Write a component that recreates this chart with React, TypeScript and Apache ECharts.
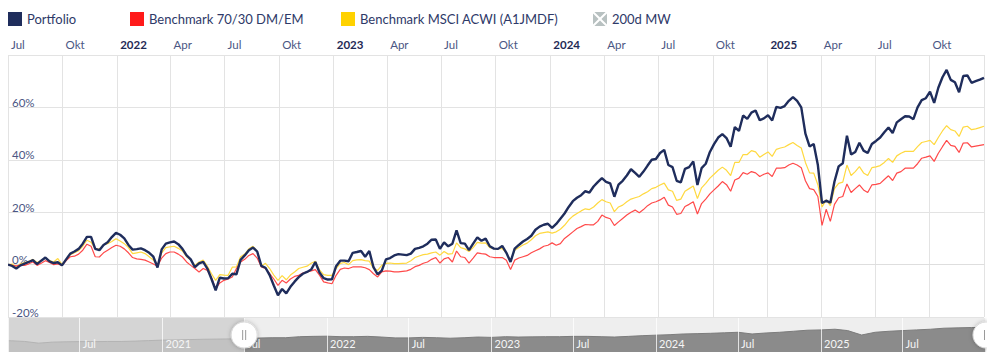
import React, { useEffect, useRef } from 'react';
import * as echarts from 'echarts';

// ---- data ----
const WEEK_START = '2021-07-01'; // weekly observations, one per week from this date
const MAIN_MIN = '2021-07-01';
const MAIN_MAX = '2026-01-01';
const NAV_MIN = '2020-01-24';
const NAV_MAX = '2026-01-02';
const SEL_START = '2021-07-01';

const MONTH_NAMES = ['Jan', 'Feb', 'Mär', 'Apr', 'Mai', 'Jun', 'Jul', 'Aug', 'Sep', 'Okt', 'Nov', 'Dez'];
const SERIES_NAMES = ['Portfolio', 'Benchmark 70/30 DM/EM', 'Benchmark MSCI ACWI (A1JMDF)', '200d MW'];

const PORTFOLIO = [
  0, -0.5, -1.5, -0.3, 0.4, 1.0, 1.7, 0.2, 1.5, 2.7,
  1.2, 0.6, 0.9, -0.3, 2.0, 4.2, 5.0, 6.0, 8.0, 10.6,
  10.6, 6.0, 5.5, 7.5, 8.5, 10.5, 12.1, 11.4, 10.0, 7.5,
  5.7, 5.9, 6.2, 5.5, 4.5, 3.0, -1.1, 5.8, 8.0, 8.5,
  8.8, 7.8, 6.0, 3.5, 2.0, -1.0, 0.5, 1.0, -1.5, -5.5,
  -9.8, -5.0, -5.3, -5.2, -3.5, -3.7, 1.8, 3.5, 5.5, 6.5,
  5.0, -0.5, -1.2, -4.0, -8.0, -11.7, -9.3, -11.0, -8.5, -6.5,
  -4.8, -3.5, -2.8, -1.9, 1.0, -3.0, -5.2, -5.7, -5.6, -0.6,
  1.5, 1.5, 1.3, 4.5, 4.8, 5.2, 3.0, 5.2, -1.0, -3.7,
  -2.3, 2.0, 2.5, 3.5, 4.0, 3.8, 3.6, 4.2, 6.0, 6.4,
  7.0, 8.0, 9.5, 9.6, 6.0, 8.5, 7.0, 8.0, 13.1, 8.2,
  8.0, 5.5, 8.0, 10.4, 9.1, 9.9, 7.0, 6.1, 6.0, 7.1,
  4.5, 1.0, 6.1, 7.5, 8.8, 9.8, 11.0, 13.3, 14.5, 15.2,
  15.6, 14.0, 15.5, 17.5, 19.5, 22.0, 24.2, 25.5, 26.5, 28.0,
  27.5, 29.8, 31.5, 33.0, 31.6, 31.0, 25.9, 30.5, 32.0, 34.0,
  36.4, 35.0, 33.5, 35.5, 37.8, 40.0, 40.3, 42.6, 43.8, 38.0,
  37.2, 32.0, 31.4, 36.5, 37.2, 39.4, 30.4, 36.8, 38.5, 43.0,
  46.0, 48.5, 49.8, 48.3, 45.0, 52.5, 51.0, 56.9, 55.6, 58.0,
  58.8, 55.1, 55.8, 57.0, 55.0, 60.2, 59.8, 60.5, 62.5, 63.9,
  62.5, 60.0, 50.0, 45.1, 46.0, 38.0, 23.5, 24.4, 23.6, 31.7,
  37.5, 38.7, 49.2, 42.0, 43.0, 46.5, 43.5, 42.6, 46.0, 47.2,
  48.5, 50.5, 52.3, 50.2, 54.3, 55.5, 56.6, 56.5, 55.5, 60.0,
  62.8, 63.5, 66.0, 61.7, 67.5, 71.5, 74.3, 70.5, 69.6, 65.8,
  72.0, 72.2, 69.4, 70.0, 70.6, 71.3,
];

const MSCI_ACWI = [
  0, 0.2, -0.8, 0.3, 0.8, 1.2, 2.0, 0.8, 1.5, 2.5,
  1.5, 1.0, 2.3, 0.1, 1.8, 3.8, 4.5, 5.3, 7.0, 9.3,
  8.5, 6.1, 6.0, 7.5, 8.0, 8.8, 9.9, 9.0, 8.0, 6.5,
  4.2, 4.5, 4.8, 4.2, 3.0, 1.7, -0.3, 4.5, 6.5, 6.8,
  7.0, 6.2, 5.2, 3.0, 1.7, -0.3, 1.0, 1.7, -0.6, -3.5,
  -6.0, -3.8, -4.0, -4.1, -1.0, -0.9, 3.0, 4.0, 6.0, 7.0,
  5.0, -0.5, 0.5, -1.5, -4.0, -6.0, -4.2, -5.8, -4.0, -2.8,
  -1.5, -1.0, -0.6, 0.5, 1.3, -2.0, -3.8, -4.1, -4.1, -1.5,
  0.5, 0.8, 0.0, 1.5, 1.8, 1.9, 1.5, 1.3, -1.5, -2.2,
  -0.3, 0.5, 0.6, 0.4, 0.4, 0.5, 0.6, 1.5, 2.7, 3.3,
  3.8, 4.0, 4.5, 4.8, 3.6, 5.0, 4.0, 4.2, 8.3, 6.5,
  6.0, 5.0, 6.5, 8.5, 8.2, 8.3, 6.5, 6.1, 6.1, 6.1,
  4.5, 1.4, 5.5, 6.5, 7.5, 8.2, 9.5, 11.0, 11.9, 12.2,
  12.5, 12.0, 12.5, 13.5, 15.0, 17.0, 18.5, 19.5, 20.5, 21.3,
  21.0, 22.0, 23.5, 24.8, 24.0, 23.5, 20.2, 22.0, 22.7, 24.0,
  25.0, 25.5, 26.0, 27.0, 27.8, 29.0, 29.5, 30.4, 31.1, 28.5,
  28.0, 24.5, 25.0, 28.0, 29.0, 30.0, 25.2, 29.3, 31.0, 33.0,
  34.5, 36.0, 37.2, 36.0, 34.0, 39.0, 39.0, 42.0, 42.0, 43.5,
  43.0, 41.0, 42.0, 43.0, 41.3, 44.0, 44.5, 44.9, 45.8, 46.6,
  45.5, 44.5, 39.0, 35.0, 34.9, 30.5, 22.0, 24.7, 22.5, 29.0,
  31.0, 31.5, 38.0, 34.0, 35.5, 37.4, 35.0, 34.0, 37.0, 37.3,
  37.8, 39.0, 40.5, 39.0, 41.5, 42.5, 43.2, 43.2, 43.2, 45.0,
  46.6, 47.0, 47.4, 45.8, 48.5, 51.0, 53.0, 51.5, 51.0, 48.9,
  52.5, 52.8, 51.5, 51.8, 52.3, 52.8,
];

const BENCH_7030 = [
  0, -0.3, -0.5, -0.2, -0.3, 0.3, 1.0, -0.3, 0.5, 1.5,
  0.8, 0.0, 0.3, -0.3, 1.5, 3.0, 3.2, 4.0, 5.5, 7.8,
  7.0, 3.0, 2.9, 4.5, 5.5, 6.5, 7.4, 7.0, 6.0, 4.5,
  2.7, 2.2, 2.0, 1.7, 1.0, 0.2, -0.6, 2.5, 4.2, 4.8,
  4.8, 4.0, 2.9, 1.0, -0.3, -1.5, -2.8, -1.5, -2.2, -5.0,
  -9.2, -7.0, -6.0, -5.5, -4.7, -1.5, 1.0, 2.0, 3.5, 4.2,
  2.5, -0.9, -1.5, -3.4, -5.5, -7.9, -6.0, -7.0, -5.5, -4.5,
  -4.1, -3.2, -2.8, -2.4, -1.9, -4.0, -6.6, -7.0, -7.3, -4.1,
  -1.8, -1.3, -1.5, -0.9, -0.9, -0.9, -1.2, -1.9, -3.5, -4.7,
  -2.8, -2.4, -2.5, -2.8, -2.8, -2.6, -2.4, -1.8, -0.8, -0.3,
  0.5, 1.0, 2.0, 2.7, 0.6, 2.2, 2.7, 1.0, 5.2, 3.0,
  2.7, 0.6, 2.5, 4.5, 4.2, 4.0, 3.0, 2.7, 2.7, 2.7,
  1.7, -1.9, 1.7, 2.5, 3.0, 3.5, 4.5, 5.3, 6.0, 7.0,
  7.4, 8.3, 7.4, 8.0, 10.0, 11.2, 12.5, 13.8, 14.5, 15.3,
  15.2, 15.2, 16.5, 18.9, 18.0, 17.5, 14.9, 16.3, 17.6, 18.9,
  20.0, 20.8, 19.8, 21.0, 22.5, 23.5, 24.0, 24.7, 25.7, 22.7,
  22.0, 19.2, 19.5, 22.2, 23.0, 24.0, 19.3, 23.3, 25.0, 27.0,
  28.5, 30.0, 31.7, 30.5, 28.0, 32.3, 33.0, 35.1, 34.5, 35.5,
  35.0, 33.6, 34.5, 35.0, 33.6, 36.8, 36.8, 37.0, 38.0, 38.7,
  38.0, 37.0, 32.0, 29.0, 28.6, 26.0, 15.0, 21.1, 16.5, 23.0,
  25.5, 26.0, 30.8, 27.5, 29.0, 30.4, 28.5, 27.5, 30.4, 30.6,
  31.0, 32.5, 33.9, 32.1, 34.9, 35.5, 36.8, 36.8, 36.8, 38.5,
  40.6, 41.0, 41.5, 39.4, 42.5, 45.0, 47.4, 45.5, 45.1, 42.8,
  46.4, 46.5, 44.9, 45.2, 45.5, 45.8,
];

// navigator (overview) series, in the navigator's own relative scale 0..100
const NAV_DATES = [
  '2020-01-24', '2020-02-01', '2020-03-01', '2020-04-01', '2020-05-01', '2020-06-01',
  '2020-07-01', '2020-08-01', '2020-09-01', '2020-10-01', '2020-11-01', '2020-12-01',
  '2021-01-01', '2021-02-01', '2021-03-01', '2021-04-01', '2021-05-01', '2021-06-01',
  '2021-07-01', '2021-08-01', '2021-09-01', '2021-10-01', '2021-11-01', '2021-12-01',
  '2022-01-01', '2022-02-01', '2022-03-01', '2022-04-01', '2022-05-01', '2022-06-01',
  '2022-07-01', '2022-08-01', '2022-09-01', '2022-10-01', '2022-11-01', '2022-12-01',
  '2023-01-01', '2023-02-01', '2023-03-01', '2023-04-01', '2023-05-01', '2023-06-01',
  '2023-07-01', '2023-08-01', '2023-09-01', '2023-10-01', '2023-11-01', '2023-12-01',
  '2024-01-01', '2024-02-01', '2024-03-01', '2024-04-01', '2024-05-01', '2024-06-01',
  '2024-07-01', '2024-08-01', '2024-09-01', '2024-10-01', '2024-11-01', '2024-12-01',
  '2025-01-01', '2025-02-01', '2025-03-01', '2025-04-01', '2025-05-01', '2025-06-01',
  '2025-07-01', '2025-08-01', '2025-09-01', '2025-10-01', '2025-11-01', '2025-12-01',
  '2026-01-02',
];
const NAV_VALUES = [
  33, 33, 31, 26, 29, 30,
  30.5, 30.5, 31, 31, 32, 33.5,
  35, 35.5, 36.5, 37.5, 38, 38.5,
  40, 41, 42, 42, 45, 46,
  46.5, 45, 45, 46, 44, 41.5,
  41.5, 43, 42, 40.5, 42, 44,
  43, 45, 44, 44.5, 45, 45,
  46, 46, 45, 44, 46, 48,
  49.5, 51, 53, 54, 55, 56.5,
  58, 53, 56, 58, 61, 64,
  65, 67, 63, 50, 58, 61,
  63, 65, 67, 70, 71, 72,
  72.5,
];

const DAY = 86400000;

function ts(s: string): number {
  const [y, m, d] = s.split('-').map(Number);
  return new Date(y, m - 1, d).getTime();
}
function weekly(i: number): number {
  const [y, m, d] = WEEK_START.split('-').map(Number);
  return new Date(y, m - 1, d + 7 * i).getTime();
}

const FONT = 'Lato';
const LABEL_COLOR = '#4a5683';
const YEAR_COLOR = '#1f2a55';
const LEGEND_LEFTS = [0, 122, 333, 585];
const X_ICON = 'path://M10,0L90,0L50,40Z M100,10L100,90L60,50Z M90,100L10,100L50,60Z M0,90L0,10L40,50Z';

function mainLabel(val: number): string {
  const d = new Date(val);
  if (d.getDate() !== 1 || d.getFullYear() >= 2026) return '';
  const m = d.getMonth();
  if (m % 3 !== 0) return '';
  return m === 0 ? `{y|${d.getFullYear()}}` : `{m|${MONTH_NAMES[m]}}`;
}
function navLabel(val: number): string {
  const d = new Date(val);
  if (d.getDate() !== 1 || d.getFullYear() >= 2026) return '';
  const m = d.getMonth();
  if (m === 0) return String(d.getFullYear());
  if (m === 6) return MONTH_NAMES[6];
  return '';
}

function handle(cx: number, cy: number) {
  return {
    type: 'group',
    x: cx,
    y: cy,
    z: 20,
    children: [
      {
        type: 'circle',
        z: 20,
        shape: { cx: 0, cy: 0, r: 13 },
        style: { fill: '#ffffff', stroke: '#dcdcdc', lineWidth: 1, shadowBlur: 4, shadowColor: 'rgba(0,0,0,0.25)' },
      },
      { type: 'line', z: 21, shape: { x1: -1.5, y1: -5, x2: -1.5, y2: 5 }, style: { stroke: '#9a9a9a', lineWidth: 1 } },
      { type: 'line', z: 21, shape: { x1: 1.5, y1: -5, x2: 1.5, y2: 5 }, style: { stroke: '#9a9a9a', lineWidth: 1 } },
    ],
  };
}

function legendFor(i: number) {
  const item: any = { name: SERIES_NAMES[i] };
  if (i === 3) {
    item.icon = X_ICON;
    item.itemStyle = { color: '#b8c1c1' };
  }
  return {
    left: LEGEND_LEFTS[i],
    top: 4,
    padding: 0,
    itemWidth: 14,
    itemHeight: 14,
    icon: 'rect',
    selectedMode: false,
    itemStyle: { borderWidth: 0 },
    textStyle: { fontFamily: FONT, fontSize: 13, color: '#2e3968' },
    data: [item],
  };
}

export default function App() {
  const ref = useRef<HTMLDivElement>(null);
  useEffect(() => {
    if (!ref.current) return;
    const chart = echarts.init(ref.current, null, { renderer: 'svg' });
    const sel = ts(SEL_START);
    const navAll = NAV_DATES.map((d, i) => [ts(d), NAV_VALUES[i]]);
    const navLeft = navAll.filter((p) => p[0] <= sel);
    const navRight = navAll.filter((p) => p[0] >= sel);

    const option: any = {
      animation: false,
      textStyle: { fontFamily: FONT },
      legend: [legendFor(0), legendFor(1), legendFor(2), legendFor(3)],
      grid: [
        { left: 0, right: 3, top: 47, height: 262, outerBoundsMode: 'none', containLabel: false },
        {
          left: 0, right: 1, top: 310, height: 34, outerBoundsMode: 'none', containLabel: false,
          show: true, backgroundColor: '#eeeeee', borderWidth: 0,
        },
      ],
      xAxis: [
        {
          type: 'time',
          gridIndex: 0,
          position: 'top',
          min: ts(MAIN_MIN),
          max: ts(MAIN_MAX),
          splitNumber: 18,
          minInterval: 91 * DAY,
          maxInterval: 91 * DAY,
          axisLine: { show: true, lineStyle: { color: '#dedede', width: 1 } },
          axisTick: { show: false },
          splitLine: { show: true, lineStyle: { color: '#e3e3e3', width: 1 } },
          axisLabel: {
            formatter: mainLabel,
            margin: 5,
            align: 'left',
            padding: [0, 0, 0, 3],
            fontSize: 11.5,
            rich: {
              y: { fontFamily: FONT, fontSize: 11.5, fontWeight: 'bold', color: YEAR_COLOR },
              m: { fontFamily: FONT, fontSize: 11.5, color: LABEL_COLOR },
            },
          },
        },
        {
          type: 'time',
          gridIndex: 1,
          position: 'bottom',
          min: ts(NAV_MIN),
          max: ts(NAV_MAX),
          splitNumber: 12,
          minInterval: 182 * DAY,
          maxInterval: 182 * DAY,
          z: 5,
          axisLine: { show: false },
          axisTick: { show: false },
          splitLine: { show: true, lineStyle: { color: 'rgba(255,255,255,0.75)', width: 1 } },
          axisLabel: {
            inside: true,
            formatter: navLabel,
            color: '#f6f6f6',
            fontSize: 11,
            fontFamily: FONT,
            margin: 3,
            align: 'left',
            padding: [0, 0, 0, 3],
          },
        },
      ],
      yAxis: [
        {
          type: 'value',
          gridIndex: 0,
          min: -20,
          max: 80,
          interval: 20,
          axisLine: { show: false },
          axisTick: { show: false },
          splitLine: {
            show: true,
            lineStyle: { color: ['#e3e3e3', '#9c9c9c', '#e3e3e3', '#e3e3e3', '#e3e3e3', '#e3e3e3'], width: 1 },
          },
          axisLabel: {
            inside: true,
            margin: 4,
            verticalAlign: 'bottom',
            lineHeight: 10,
            fontSize: 11.5,
            fontFamily: FONT,
            color: LABEL_COLOR,
            formatter: (v: number) => (v >= 80 ? '' : `${v}%`),
          },
        },
        { type: 'value', gridIndex: 1, min: 0, max: 100, show: false },
      ],
      series: [
        {
          name: 'navLeft',
          type: 'line',
          xAxisIndex: 1,
          yAxisIndex: 1,
          data: navLeft,
          symbol: 'none',
          silent: true,
          lineStyle: { width: 1, color: '#b3b3b3' },
          areaStyle: { color: '#c2c2c2', opacity: 1 },
          markArea: {
            silent: true,
            itemStyle: { color: '#d5d5d5' },
            data: [[{ xAxis: ts(NAV_MIN) }, { xAxis: sel }]],
          },
        },
        {
          name: 'navRight',
          type: 'line',
          xAxisIndex: 1,
          yAxisIndex: 1,
          data: navRight,
          symbol: 'none',
          silent: true,
          lineStyle: { width: 1, color: '#7c7c7c' },
          areaStyle: { color: '#8b8b8b', opacity: 1 },
        },
        {
          name: SERIES_NAMES[2],
          type: 'line',
          data: MSCI_ACWI.map((v, i) => [weekly(i), v]),
          symbol: 'none',
          itemStyle: { color: '#ffd200' },
          lineStyle: { color: '#ffd940', width: 1.2 },
          z: 2,
        },
        {
          name: SERIES_NAMES[1],
          type: 'line',
          data: BENCH_7030.map((v, i) => [weekly(i), v]),
          symbol: 'none',
          itemStyle: { color: '#ff1a1a' },
          lineStyle: { color: '#ff4a4a', width: 1.2 },
          z: 2,
        },
        {
          name: SERIES_NAMES[0],
          type: 'line',
          data: PORTFOLIO.map((v, i) => [weekly(i), v]),
          symbol: 'none',
          itemStyle: { color: '#1f2d5c' },
          lineStyle: { color: '#1f2d5c', width: 2.4 },
          z: 3,
        },
        {
          name: SERIES_NAMES[3],
          type: 'line',
          data: [],
          symbol: 'none',
          itemStyle: { color: '#b8c1c1' },
        },
      ],
    };
    chart.setOption(option);
    const a = chart.convertToPixel({ gridIndex: 1 }, [sel, 50]) as number[];
    const b = chart.convertToPixel({ gridIndex: 1 }, [ts(NAV_MAX), 50]) as number[];
    if (a && b) {
      chart.setOption({ graphic: [handle(a[0], a[1]), handle(b[0], b[1])] });
    }
    return () => chart.dispose();
  }, []);
  return <div ref={ref} style={{ width: 979, height: 352 }} />;
}
